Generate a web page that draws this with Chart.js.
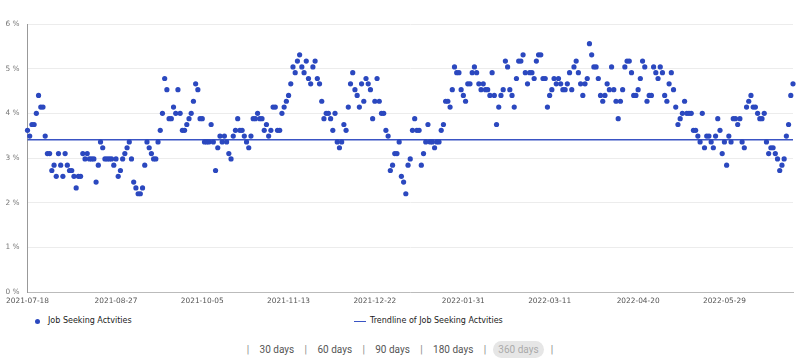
<!DOCTYPE html>
<html>
<head>
    <title>Job Seeking Activities</title>
    <script src="https://cdn.jsdelivr.net/npm/chart.js"></script>
    <style>
        body { margin: 0; background: #fff; font-family: Roboto, "Liberation Sans", sans-serif; }
        #wrap { position: absolute; left: 0; top: 0; width: 800px; height: 312px; }
        .legend { position: absolute; top: 315px; font: 8px "DejaVu Sans", sans-serif; color: #1a1a1a; height: 12px; line-height: 12px; white-space: nowrap; }
        .legend .dot { position: absolute; left: -13px; top: 3.5px; width: 5px; height: 5px; border-radius: 50%; background: #2b48bf; }
        .legend .line { position: absolute; left: -16px; top: 5.5px; width: 12px; height: 1.5px; background: #3a54c4; }
        #ranges { position: absolute; top: 339px; left: 0; width: 800px; height: 20px; display: flex; justify-content: center; align-items: center; font-size: 10px; color: #555; }
        #ranges span { margin: 0 5.2px; }
        #ranges .sep { color: #888; }
        #ranges .on { background: #e6e6e6; color: #aaa; border-radius: 10px; padding: 3px 5px; margin: 0 2px; }
    </style>
</head>
<body>
    <div id="wrap"><canvas id="chart"></canvas></div>
    <div class="legend" style="left:48px"><span class="dot"></span>Job Seeking Actvities</div>
    <div class="legend" style="left:370px"><span class="line"></span>Trendline of Job Seeking Actvities</div>
    <div id="ranges">
        <span class="sep">|</span><span>30 days</span><span class="sep">|</span><span>60 days</span><span class="sep">|</span><span>90 days</span><span class="sep">|</span><span>180 days</span><span class="sep">|</span><span class="on">360 days</span><span class="sep">|</span>
    </div>
    <script>
        // daily values, %, starting 2021-07-18
        const startDay = [2021, 6, 18];
        const jobSeeking = [
            3.62, 3.49, 3.75, 3.75, 4.0, 4.40, 4.14, 4.14, 3.49, 3.10,
            3.10, 2.72, 2.84, 2.59, 3.10, 2.84, 2.59, 3.10, 2.84, 2.72,
            2.72, 2.59, 2.33, 2.59, 2.59, 3.10, 2.98, 3.10, 2.98, 2.98,
            2.98, 2.46, 2.84, 3.36, 3.23, 2.98, 2.98, 2.98, 2.98, 2.84,
            2.98, 2.59, 2.72, 2.98, 3.10, 3.23, 3.36, 2.98, 2.46, 2.33,
            2.20, 2.20, 2.33, 2.84, 3.36, 3.23, 3.10, 2.98, 2.98, 3.36,
            3.62, 4.0, 4.78, 4.53, 3.88, 3.88, 4.14, 4.0, 4.53, 4.0,
            3.62, 3.62, 3.75, 3.88, 4.0, 4.27, 4.66, 4.53, 3.88, 3.88,
            3.36, 3.36, 3.36, 3.75, 3.36, 2.72, 3.23, 3.49, 3.36, 3.49,
            3.36, 3.10, 2.98, 3.49, 3.62, 3.88, 3.62, 3.62, 3.49, 3.36,
            3.23, 3.49, 3.88, 3.88, 4.0, 3.88, 3.88, 3.62, 3.75, 3.49,
            3.62, 4.14, 4.14, 3.62, 3.62, 4.0, 4.14, 4.27, 4.40, 4.66,
            5.04, 4.91, 5.17, 5.31, 5.04, 4.91, 5.17, 4.78, 4.66, 5.04,
            5.17, 4.78, 4.66, 4.27, 3.88, 4.0, 4.0, 3.88, 3.62, 4.0,
            3.36, 3.23, 3.36, 3.75, 3.62, 4.14, 4.66, 4.91, 4.53, 4.40,
            4.14, 4.66, 4.27, 4.78, 4.66, 4.53, 3.88, 4.27, 4.78, 4.27,
            4.0, 4.0, 3.62, 3.49, 2.72, 2.84, 3.10, 3.10, 3.36, 2.59,
            2.46, 2.20, 2.84, 2.98, 3.62, 3.88, 3.62, 3.62, 2.84, 3.10,
            3.36, 3.75, 3.36, 3.36, 3.23, 3.36, 3.36, 3.62, 3.75, 4.27,
            4.27, 4.14, 4.53, 5.04, 4.91, 4.91, 4.53, 4.40, 4.27, 4.66,
            4.66, 4.91, 5.04, 4.91, 4.66, 4.53, 4.66, 4.53, 4.53, 4.40,
            4.91, 4.40, 3.75, 4.14, 4.40, 4.53, 5.17, 5.04, 4.53, 4.40,
            4.14, 4.78, 5.17, 5.17, 5.31, 4.91, 4.66, 4.91, 4.91, 4.78,
            5.17, 5.31, 5.31, 4.78, 4.78, 4.14, 4.40, 4.53, 4.78, 4.66,
            4.78, 4.66, 4.53, 4.53, 4.66, 4.91, 4.53, 5.04, 5.17, 4.91,
            4.66, 4.40, 4.66, 4.78, 5.56, 5.31, 5.04, 5.04, 4.78, 4.40,
            4.27, 4.40, 4.66, 4.53, 5.04, 4.53, 4.27, 3.88, 4.27, 4.53,
            5.04, 5.17, 5.17, 4.91, 4.40, 4.40, 4.53, 4.78, 5.17, 5.04,
            4.27, 4.40, 4.40, 5.04, 4.91, 4.78, 5.04, 4.91, 4.40, 4.27,
            4.66, 4.91, 4.53, 4.14, 3.75, 3.88, 4.0, 4.27, 4.0, 4.0,
            4.0, 3.62, 3.62, 3.49, 3.36, 4.0, 3.23, 3.49, 3.49, 3.36,
            3.23, 3.49, 3.88, 3.62, 3.10, 3.36, 2.84, 3.49, 3.36, 3.88,
            3.88, 3.75, 3.88, 3.36, 3.23, 4.14, 4.27, 4.40, 4.14, 4.14,
            4.0, 3.88, 3.88, 4.0, 3.36, 3.10, 3.23, 3.23, 3.10, 2.98,
            2.72, 2.84, 2.98, 3.49, 3.75, 4.40, 4.66
        ];
        // trendline is flat in the picture
        const trendStart = 3.41;
        const trendEnd = 3.41;
        const tickDates = ['2021-07-18', '2021-08-27', '2021-10-05', '2021-11-13', '2021-12-22',
                           '2022-01-31', '2022-03-11', '2022-04-20', '2022-05-29'];
        const yTicks = [0, 1, 2, 3, 4, 5, 6];

        const days = jobSeeking.map((v, i) =>
            new Date(Date.UTC(startDay[0], startDay[1], startDay[2] + i)).toISOString().slice(0, 10));

        const axisFont = { family: '"DejaVu Sans", sans-serif', size: 7.4 };

        new Chart(document.getElementById('chart'), {
            type: 'line',
            data: {
                labels: days,
                datasets: [{
                    label: 'Job Seeking Actvities',
                    data: jobSeeking,
                    showLine: false,
                    pointRadius: 2.6,
                    pointBorderWidth: 0,
                    pointBackgroundColor: '#2b48bf',
                    order: 1
                }, {
                    label: 'Trendline of Job Seeking Actvities',
                    data: [{ x: days[0], y: trendStart }, { x: days[days.length - 1], y: trendEnd }],
                    borderColor: '#3a54c4',
                    borderWidth: 1.5,
                    pointRadius: 0,
                    order: 2
                }]
            },
            options: {
                responsive: true,
                maintainAspectRatio: false,
                animation: false,
                layout: { padding: { left: 0.5, right: 7, top: 24, bottom: 0 } },
                plugins: { legend: { display: false }, tooltip: { enabled: false } },
                scales: {
                    x: {
                        type: 'category',
                        grid: { display: false, drawTicks: false },
                        border: { color: '#bbb', width: 1 },
                        ticks: {
                            autoSkip: false,
                            maxRotation: 0,
                            minRotation: 0,
                            padding: 5,
                            color: '#555',
                            font: axisFont,
                            callback: function (val) {
                                const d = this.getLabelForValue(val);
                                return tickDates.includes(d) ? d : null;
                            }
                        },
                        afterFit: s => { s.height = 20; }
                    },
                    y: {
                        min: 0,
                        max: 6,
                        afterBuildTicks: s => { s.ticks = yTicks.map(v => ({ value: v })); },
                        grid: { color: '#ececec', drawTicks: false },
                        border: { color: '#999', width: 1 },
                        ticks: {
                            padding: 8,
                            color: '#777',
                            font: axisFont,
                            callback: v => v + ' %'
                        },
                        afterFit: s => { s.width = 27; }
                    }
                }
            }
        });
    </script>
</body>
</html>
